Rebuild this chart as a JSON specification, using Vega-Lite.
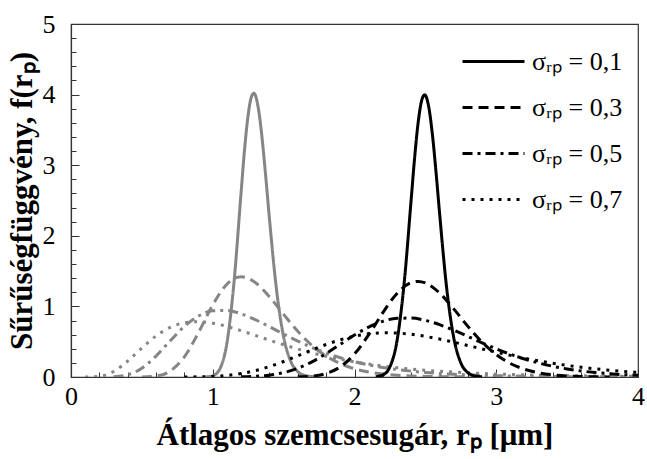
{
"$schema": "https://vega.github.io/schema/vega-lite/v6.json",
"width": 567, "height": 353,
"autosize": {"type": "none"},
"padding": {"left": 71, "top": 24, "right": 9, "bottom": 82},
"config": {
  "font": "'Liberation Serif', 'Times New Roman', Times, serif",
  "view": {"stroke": "#333", "strokeWidth": 1.2},
  "axis": {"grid": false, "domainColor": "#333", "domainWidth": 1.2, "tickColor": "#333", "tickWidth": 1, "labelFont": "'Liberation Serif', 'Times New Roman', Times, serif", "labelFontSize": 26, "labelColor": "black", "titleFont": "'Liberation Serif', 'Times New Roman', Times, serif", "titleFontSize": 31, "titleFontWeight": "bold", "titleColor": "black"},
  "legend": {"orient": "none", "legendX": 390, "legendY": 5, "symbolType": "stroke", "symbolSize": 3844, "symbolStrokeWidth": 3, "symbolStrokeColor": "black", "labelFont": "'Liberation Serif', 'Times New Roman', Times, serif", "labelFontSize": 26, "labelColor": "black", "rowPadding": -17, "labelOffset": 6}
},
"data": {"values": [
{"m":"1,3","s":"0,1","x":0.95,"y":0.0015},{"m":"1,3","s":"0,1","x":1.0,"y":0.0173},{"m":"1,3","s":"0,1","x":1.05,"y":0.1152},{"m":"1,3","s":"0,1","x":1.1,"y":0.4817},{"m":"1,3","s":"0,1","x":1.15,"y":1.342},{"m":"1,3","s":"0,1","x":1.2,"y":2.616},{"m":"1,3","s":"0,1","x":1.225,"y":3.236},{"m":"1,3","s":"0,1","x":1.25,"y":3.717},{"m":"1,3","s":"0,1","x":1.275,"y":3.981},{"m":"1,3","s":"0,1","x":1.29,"y":4.019},{"m":"1,3","s":"0,1","x":1.3,"y":3.992},{"m":"1,3","s":"0,1","x":1.325,"y":3.763},{"m":"1,3","s":"0,1","x":1.35,"y":3.344},{"m":"1,3","s":"0,1","x":1.375,"y":2.811},{"m":"1,3","s":"0,1","x":1.4,"y":2.243},{"m":"1,3","s":"0,1","x":1.45,"y":1.234},{"m":"1,3","s":"0,1","x":1.5,"y":0.568},{"m":"1,3","s":"0,1","x":1.55,"y":0.223},{"m":"1,3","s":"0,1","x":1.6,"y":0.0757},{"m":"1,3","s":"0,1","x":1.65,"y":0.0226},{"m":"1,3","s":"0,1","x":1.7,"y":0.006},{"m":"1,3","s":"0,1","x":1.75,"y":0.0015},
{"m":"1,3","s":"0,3","x":0.5,"y":0.0009},{"m":"1,3","s":"0,3","x":0.6,"y":0.0134},{"m":"1,3","s":"0,3","x":0.7,"y":0.0844},{"m":"1,3","s":"0,3","x":0.8,"y":0.286},{"m":"1,3","s":"0,3","x":0.9,"y":0.6313},{"m":"1,3","s":"0,3","x":1.0,"y":1.022},{"m":"1,3","s":"0,3","x":1.1,"y":1.3142},{"m":"1,3","s":"0,3","x":1.2,"y":1.4189},{"m":"1,3","s":"0,3","x":1.3,"y":1.3385},{"m":"1,3","s":"0,3","x":1.4,"y":1.136},{"m":"1,3","s":"0,3","x":1.5,"y":0.8866},{"m":"1,3","s":"0,3","x":1.6,"y":0.647},{"m":"1,3","s":"0,3","x":1.7,"y":0.4474},{"m":"1,3","s":"0,3","x":1.8,"y":0.2961},{"m":"1,3","s":"0,3","x":1.9,"y":0.1891},{"m":"1,3","s":"0,3","x":2.0,"y":0.1173},{"m":"1,3","s":"0,3","x":2.1,"y":0.0711},{"m":"1,3","s":"0,3","x":2.2,"y":0.0422},{"m":"1,3","s":"0,3","x":2.3,"y":0.0247},{"m":"1,3","s":"0,3","x":2.4,"y":0.0143},{"m":"1,3","s":"0,3","x":2.5,"y":0.0082},{"m":"1,3","s":"0,3","x":2.6,"y":0.0046},{"m":"1,3","s":"0,3","x":2.7,"y":0.0026},{"m":"1,3","s":"0,3","x":2.8,"y":0.0014},
{"m":"1,3","s":"0,5","x":0.3,"y":0.003},{"m":"1,3","s":"0,5","x":0.4,"y":0.031},{"m":"1,3","s":"0,5","x":0.5,"y":0.1245},{"m":"1,3","s":"0,5","x":0.6,"y":0.2968},{"m":"1,3","s":"0,5","x":0.7,"y":0.5125},{"m":"1,3","s":"0,5","x":0.8,"y":0.716},{"m":"1,3","s":"0,5","x":0.9,"y":0.8636},{"m":"1,3","s":"0,5","x":1.0,"y":0.9379},{"m":"1,3","s":"0,5","x":1.1,"y":0.943},{"m":"1,3","s":"0,5","x":1.2,"y":0.8947},{"m":"1,3","s":"0,5","x":1.3,"y":0.8121},{"m":"1,3","s":"0,5","x":1.4,"y":0.7123},{"m":"1,3","s":"0,5","x":1.5,"y":0.6083},{"m":"1,3","s":"0,5","x":1.6,"y":0.5087},{"m":"1,3","s":"0,5","x":1.7,"y":0.4184},{"m":"1,3","s":"0,5","x":1.8,"y":0.3396},{"m":"1,3","s":"0,5","x":1.9,"y":0.2727},{"m":"1,3","s":"0,5","x":2.0,"y":0.2172},{"m":"1,3","s":"0,5","x":2.1,"y":0.1719},{"m":"1,3","s":"0,5","x":2.2,"y":0.1353},{"m":"1,3","s":"0,5","x":2.3,"y":0.1061},{"m":"1,3","s":"0,5","x":2.4,"y":0.0829},{"m":"1,3","s":"0,5","x":2.5,"y":0.0646},{"m":"1,3","s":"0,5","x":2.6,"y":0.0503},{"m":"1,3","s":"0,5","x":2.7,"y":0.0391},{"m":"1,3","s":"0,5","x":2.8,"y":0.0304},{"m":"1,3","s":"0,5","x":2.9,"y":0.0236},{"m":"1,3","s":"0,5","x":3.0,"y":0.0184},{"m":"1,3","s":"0,5","x":3.2,"y":0.0111},{"m":"1,3","s":"0,5","x":3.4,"y":0.0067},{"m":"1,3","s":"0,5","x":3.6,"y":0.0041},{"m":"1,3","s":"0,5","x":3.8,"y":0.0025},{"m":"1,3","s":"0,5","x":4.0,"y":0.0015},
{"m":"1,3","s":"0,7","x":0.1,"y":0.0001},{"m":"1,3","s":"0,7","x":0.2,"y":0.01},{"m":"1,3","s":"0,7","x":0.3,"y":0.0779},{"m":"1,3","s":"0,7","x":0.4,"y":0.2255},{"m":"1,3","s":"0,7","x":0.5,"y":0.4111},{"m":"1,3","s":"0,7","x":0.6,"y":0.5808},{"m":"1,3","s":"0,7","x":0.7,"y":0.7025},{"m":"1,3","s":"0,7","x":0.8,"y":0.7682},{"m":"1,3","s":"0,7","x":0.9,"y":0.7842},{"m":"1,3","s":"0,7","x":1.0,"y":0.7628},{"m":"1,3","s":"0,7","x":1.1,"y":0.7165},{"m":"1,3","s":"0,7","x":1.2,"y":0.656},{"m":"1,3","s":"0,7","x":1.3,"y":0.5891},{"m":"1,3","s":"0,7","x":1.4,"y":0.5215},{"m":"1,3","s":"0,7","x":1.5,"y":0.4566},{"m":"1,3","s":"0,7","x":1.6,"y":0.3965},{"m":"1,3","s":"0,7","x":1.7,"y":0.3421},{"m":"1,3","s":"0,7","x":1.8,"y":0.2937},{"m":"1,3","s":"0,7","x":1.9,"y":0.2513},{"m":"1,3","s":"0,7","x":2.0,"y":0.2144},{"m":"1,3","s":"0,7","x":2.2,"y":0.1554},{"m":"1,3","s":"0,7","x":2.4,"y":0.1123},{"m":"1,3","s":"0,7","x":2.6,"y":0.0811},{"m":"1,3","s":"0,7","x":2.8,"y":0.0587},{"m":"1,3","s":"0,7","x":3.0,"y":0.0426},{"m":"1,3","s":"0,7","x":3.2,"y":0.031},{"m":"1,3","s":"0,7","x":3.4,"y":0.0227},{"m":"1,3","s":"0,7","x":3.6,"y":0.0167},{"m":"1,3","s":"0,7","x":3.8,"y":0.0123},{"m":"1,3","s":"0,7","x":4.0,"y":0.0091},
{"m":"2,5","s":"0,1","x":2.15,"y":0.0041},{"m":"2,5","s":"0,1","x":2.2,"y":0.0292},{"m":"2,5","s":"0,1","x":2.25,"y":0.1451},{"m":"2,5","s":"0,1","x":2.3,"y":0.5139},{"m":"2,5","s":"0,1","x":2.35,"y":1.322},{"m":"2,5","s":"0,1","x":2.4,"y":2.519},{"m":"2,5","s":"0,1","x":2.425,"y":3.125},{"m":"2,5","s":"0,1","x":2.45,"y":3.62},{"m":"2,5","s":"0,1","x":2.475,"y":3.925},{"m":"2,5","s":"0,1","x":2.495,"y":3.997},{"m":"2,5","s":"0,1","x":2.5,"y":3.99},{"m":"2,5","s":"0,1","x":2.525,"y":3.811},{"m":"2,5","s":"0,1","x":2.55,"y":3.426},{"m":"2,5","s":"0,1","x":2.575,"y":2.904},{"m":"2,5","s":"0,1","x":2.6,"y":2.326},{"m":"2,5","s":"0,1","x":2.65,"y":1.264},{"m":"2,5","s":"0,1","x":2.7,"y":0.558},{"m":"2,5","s":"0,1","x":2.75,"y":0.202},{"m":"2,5","s":"0,1","x":2.8,"y":0.0607},{"m":"2,5","s":"0,1","x":2.85,"y":0.0153},{"m":"2,5","s":"0,1","x":2.9,"y":0.003},
{"m":"2,5","s":"0,3","x":1.6,"y":0.0025},{"m":"2,5","s":"0,3","x":1.7,"y":0.0131},{"m":"2,5","s":"0,3","x":1.8,"y":0.0501},{"m":"2,5","s":"0,3","x":1.9,"y":0.1443},{"m":"2,5","s":"0,3","x":2.0,"y":0.3263},{"m":"2,5","s":"0,3","x":2.1,"y":0.5976},{"m":"2,5","s":"0,3","x":2.2,"y":0.9113},{"m":"2,5","s":"0,3","x":2.3,"y":1.1838},{"m":"2,5","s":"0,3","x":2.4,"y":1.3362},{"m":"2,5","s":"0,3","x":2.45,"y":1.3537},{"m":"2,5","s":"0,3","x":2.5,"y":1.3322},{"m":"2,5","s":"0,3","x":2.6,"y":1.1903},{"m":"2,5","s":"0,3","x":2.7,"y":0.9649},{"m":"2,5","s":"0,3","x":2.8,"y":0.7173},{"m":"2,5","s":"0,3","x":2.9,"y":0.4935},{"m":"2,5","s":"0,3","x":3.0,"y":0.3169},{"m":"2,5","s":"0,3","x":3.1,"y":0.1913},{"m":"2,5","s":"0,3","x":3.2,"y":0.1092},{"m":"2,5","s":"0,3","x":3.3,"y":0.0593},{"m":"2,5","s":"0,3","x":3.4,"y":0.0308},{"m":"2,5","s":"0,3","x":3.5,"y":0.0153},{"m":"2,5","s":"0,3","x":3.6,"y":0.0074},{"m":"2,5","s":"0,3","x":3.7,"y":0.0034},{"m":"2,5","s":"0,3","x":3.8,"y":0.0015},
{"m":"2,5","s":"0,5","x":1.2,"y":0.0025},{"m":"2,5","s":"0,5","x":1.3,"y":0.0092},{"m":"2,5","s":"0,5","x":1.4,"y":0.0263},{"m":"2,5","s":"0,5","x":1.5,"y":0.062},{"m":"2,5","s":"0,5","x":1.6,"y":0.1237},{"m":"2,5","s":"0,5","x":1.7,"y":0.2147},{"m":"2,5","s":"0,5","x":1.8,"y":0.3316},{"m":"2,5","s":"0,5","x":1.9,"y":0.4633},{"m":"2,5","s":"0,5","x":2.0,"y":0.594},{"m":"2,5","s":"0,5","x":2.1,"y":0.7069},{"m":"2,5","s":"0,5","x":2.2,"y":0.7886},{"m":"2,5","s":"0,5","x":2.3,"y":0.8316},{"m":"2,5","s":"0,5","x":2.4,"y":0.8345},{"m":"2,5","s":"0,5","x":2.5,"y":0.8018},{"m":"2,5","s":"0,5","x":2.6,"y":0.7413},{"m":"2,5","s":"0,5","x":2.7,"y":0.6625},{"m":"2,5","s":"0,5","x":2.8,"y":0.5743},{"m":"2,5","s":"0,5","x":2.9,"y":0.4846},{"m":"2,5","s":"0,5","x":3.0,"y":0.3993},{"m":"2,5","s":"0,5","x":3.1,"y":0.3219},{"m":"2,5","s":"0,5","x":3.2,"y":0.2546},{"m":"2,5","s":"0,5","x":3.3,"y":0.1979},{"m":"2,5","s":"0,5","x":3.4,"y":0.1515},{"m":"2,5","s":"0,5","x":3.5,"y":0.1143},{"m":"2,5","s":"0,5","x":3.6,"y":0.0852},{"m":"2,5","s":"0,5","x":3.7,"y":0.0628},{"m":"2,5","s":"0,5","x":3.8,"y":0.0458},{"m":"2,5","s":"0,5","x":3.9,"y":0.0331},{"m":"2,5","s":"0,5","x":4.0,"y":0.0237},
{"m":"2,5","s":"0,7","x":0.8,"y":0.0006},{"m":"2,5","s":"0,7","x":0.9,"y":0.0027},{"m":"2,5","s":"0,7","x":1.0,"y":0.0087},{"m":"2,5","s":"0,7","x":1.1,"y":0.0227},{"m":"2,5","s":"0,7","x":1.2,"y":0.0488},{"m":"2,5","s":"0,7","x":1.3,"y":0.0903},{"m":"2,5","s":"0,7","x":1.4,"y":0.1481},{"m":"2,5","s":"0,7","x":1.5,"y":0.2198},{"m":"2,5","s":"0,7","x":1.6,"y":0.3004},{"m":"2,5","s":"0,7","x":1.7,"y":0.3831},{"m":"2,5","s":"0,7","x":1.8,"y":0.4608},{"m":"2,5","s":"0,7","x":1.9,"y":0.5273},{"m":"2,5","s":"0,7","x":2.0,"y":0.5782},{"m":"2,5","s":"0,7","x":2.1,"y":0.6111},{"m":"2,5","s":"0,7","x":2.2,"y":0.6255},{"m":"2,5","s":"0,7","x":2.3,"y":0.6227},{"m":"2,5","s":"0,7","x":2.4,"y":0.605},{"m":"2,5","s":"0,7","x":2.5,"y":0.5754},{"m":"2,5","s":"0,7","x":2.6,"y":0.537},{"m":"2,5","s":"0,7","x":2.7,"y":0.4929},{"m":"2,5","s":"0,7","x":2.8,"y":0.4459},{"m":"2,5","s":"0,7","x":2.9,"y":0.398},{"m":"2,5","s":"0,7","x":3.0,"y":0.3512},{"m":"2,5","s":"0,7","x":3.1,"y":0.3067},{"m":"2,5","s":"0,7","x":3.2,"y":0.2654},{"m":"2,5","s":"0,7","x":3.3,"y":0.2277},{"m":"2,5","s":"0,7","x":3.4,"y":0.1939},{"m":"2,5","s":"0,7","x":3.5,"y":0.1641},{"m":"2,5","s":"0,7","x":3.6,"y":0.138},{"m":"2,5","s":"0,7","x":3.7,"y":0.1154},{"m":"2,5","s":"0,7","x":3.8,"y":0.0961},{"m":"2,5","s":"0,7","x":3.9,"y":0.0797},{"m":"2,5","s":"0,7","x":4.0,"y":0.0658}
]},
"mark": {"type": "line", "interpolate": "monotone", "strokeWidth": 3, "strokeCap": "butt", "clip": true},
"encoding": {
  "x": {"field": "x", "type": "quantitative", "scale": {"domain": [0, 4], "nice": false},
    "axis": {"title": "Átlagos szemcsesugár, rₚ [μm]", "values": [0,0.2,0.4,0.6,0.8,1,1.2,1.4,1.6,1.8,2,2.2,2.4,2.6,2.8,3,3.2,3.4,3.6,3.8,4],
      "labelExpr": "abs(datum.value - round(datum.value)) < 0.001 ? format(datum.value, 'd') : ''",
      "tickSize": {"condition": {"test": "abs(datum.value - round(datum.value)) < 0.001", "value": -8}, "value": -5},
      "labelPadding": 14, "labelFlush": false, "labelOverlap": false, "titlePadding": 8}},
  "y": {"field": "y", "type": "quantitative", "scale": {"domain": [0, 5], "nice": false},
    "axis": {"title": "Sűrűségfüggvény, f(rₚ)", "values": [0,0.2,0.4,0.6,0.8,1,1.2,1.4,1.6,1.8,2,2.2,2.4,2.6,2.8,3,3.2,3.4,3.6,3.8,4,4.2,4.4,4.6,4.8,5],
      "labelExpr": "abs(datum.value - round(datum.value)) < 0.001 ? format(datum.value, 'd') : ''",
      "tickSize": {"condition": {"test": "abs(datum.value - round(datum.value)) < 0.001", "value": -8}, "value": -5},
      "labelPadding": 24, "labelFlush": false, "labelOverlap": false, "titlePadding": 4}},
  "color": {"field": "m", "type": "nominal", "scale": {"domain": ["1,3", "2,5"], "range": ["#858585", "#000000"]}, "legend": null},
  "strokeDash": {"field": "s", "type": "nominal", "scale": {"domain": ["0,1", "0,3", "0,5", "0,7"], "range": [[1, 0], [10, 6], [10, 5, 3, 5], [3, 6]]},
    "legend": {"title": null, "labelExpr": "'σᵣₚ = ' + datum.label"}}
}
}
